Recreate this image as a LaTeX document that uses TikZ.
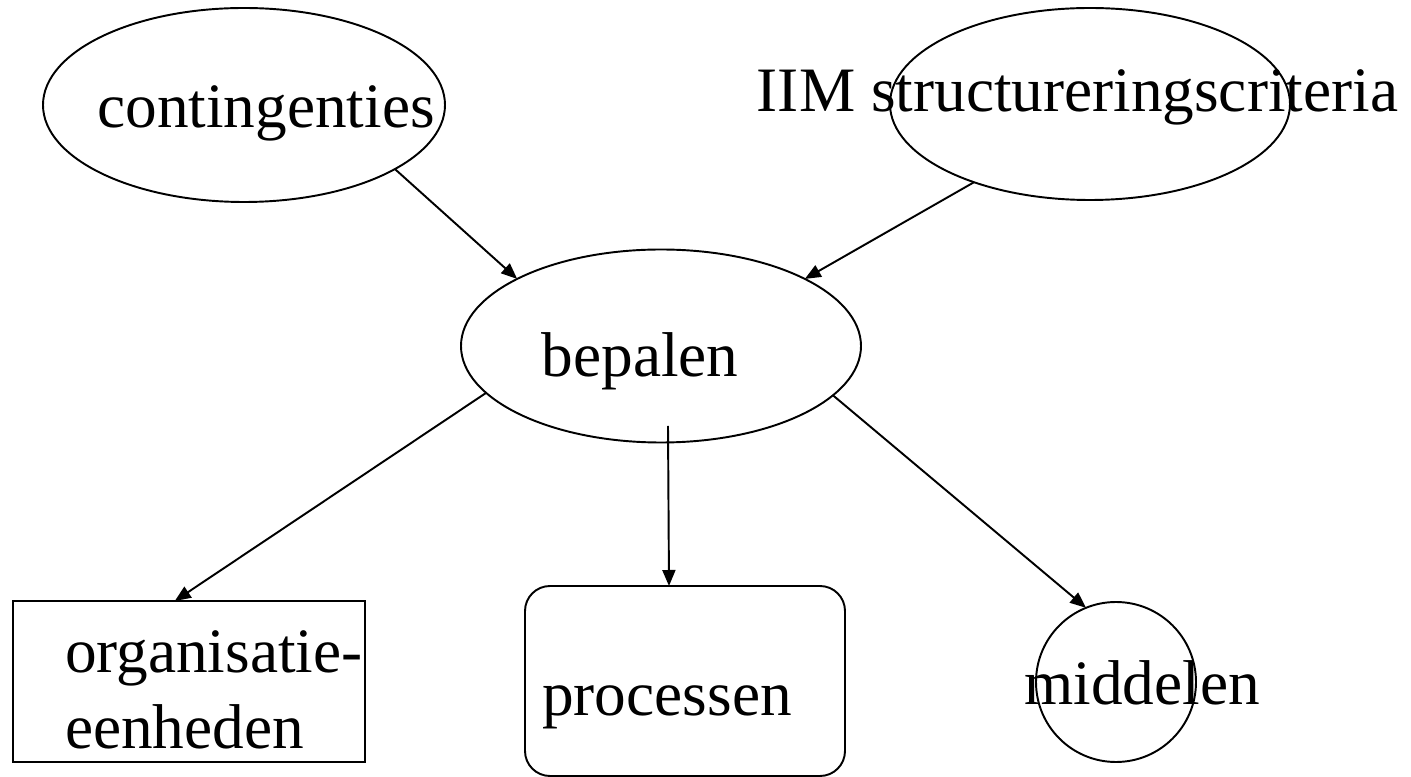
\documentclass[tikz,border=0pt]{standalone}
\usepackage{fontspec}
\setmainfont{Liberation Serif}
\usetikzlibrary{positioning,arrows.meta,shapes}

\tikzset{
  oval/.style={draw,ellipse,inner sep=0pt,outer sep=0pt,line width=1.1pt},
  box/.style={draw,rectangle,inner sep=0pt,outer sep=0pt,line width=1.1pt},
  lbl/.style={inner sep=0pt,outer sep=0pt,font=\fontsize{36}{43.2}\selectfont},
  conn/.style={line width=1.1pt,-{Triangle[length=0.32cm,width=0.26cm]}}
}

\begin{document}
\begin{tikzpicture}[on grid]
   \useasboundingbox (0,0) rectangle (28.22,-15.54);
   % shapes
   \node[oval,minimum width=8cm,minimum height=3.86cm]   (bep)  at (13.22,-6.92) {};
   \node[oval,minimum width=8.04cm,minimum height=3.88cm] (cont) [above left=4.82cm and 8.34cm of bep] {};
   \node[oval,minimum width=8cm,minimum height=3.84cm]   (iim)  [above right=4.84cm and 8.58cm of bep] {};
   \node[box,minimum width=7.04cm,minimum height=3.22cm] (org)  [below left=6.71cm and 9.44cm of bep] {};
   \node[box,rounded corners=0.5cm,minimum width=6.4cm,minimum height=3.8cm] (proc) [below right=6.7cm and 0.48cm of bep] {};
   \node[box,circle,minimum size=3.2cm]                  (mid)  [below right=6.72cm and 9.1cm of bep] {};
   % texts
   \node[lbl,anchor=base] (t_cont) at ([shift={(0.44,-0.46)}]cont.center) {contingenties};
   \node[lbl,anchor=base] (t_iim)  at ([shift={(-0.25,-0.16)}]iim.center) {IIM structureringscriteria};
   \node[lbl,anchor=base] (t_bep)  at ([shift={(-0.42,-0.62)}]bep.center) {bepalen};
   \node[lbl,anchor=base west,align=left] (t_org) at ([shift={(-2.48,-1.33)}]org.center) {organisatie-\\eenheden};
   \node[lbl,anchor=base] (t_proc) at ([shift={(-0.36,-0.7)}]proc.center) {processen};
   \node[lbl,anchor=base] (t_mid)  at ([shift={(0.52,-0.46)}]mid.center) {middelen};
   % arrows
   \draw[conn] (cont.-23)  -- (bep.155);
   \draw[conn] (iim.214)   -- (bep.25);
   \draw[conn] (bep.195)   -- (org.100);
   \draw[conn] ([shift={(0.14,0.33)}]bep.south) -- ([xshift=-0.32cm]proc.north);
   \draw[conn] (bep.-16)   -- (mid.112);
\end{tikzpicture}
\end{document}
